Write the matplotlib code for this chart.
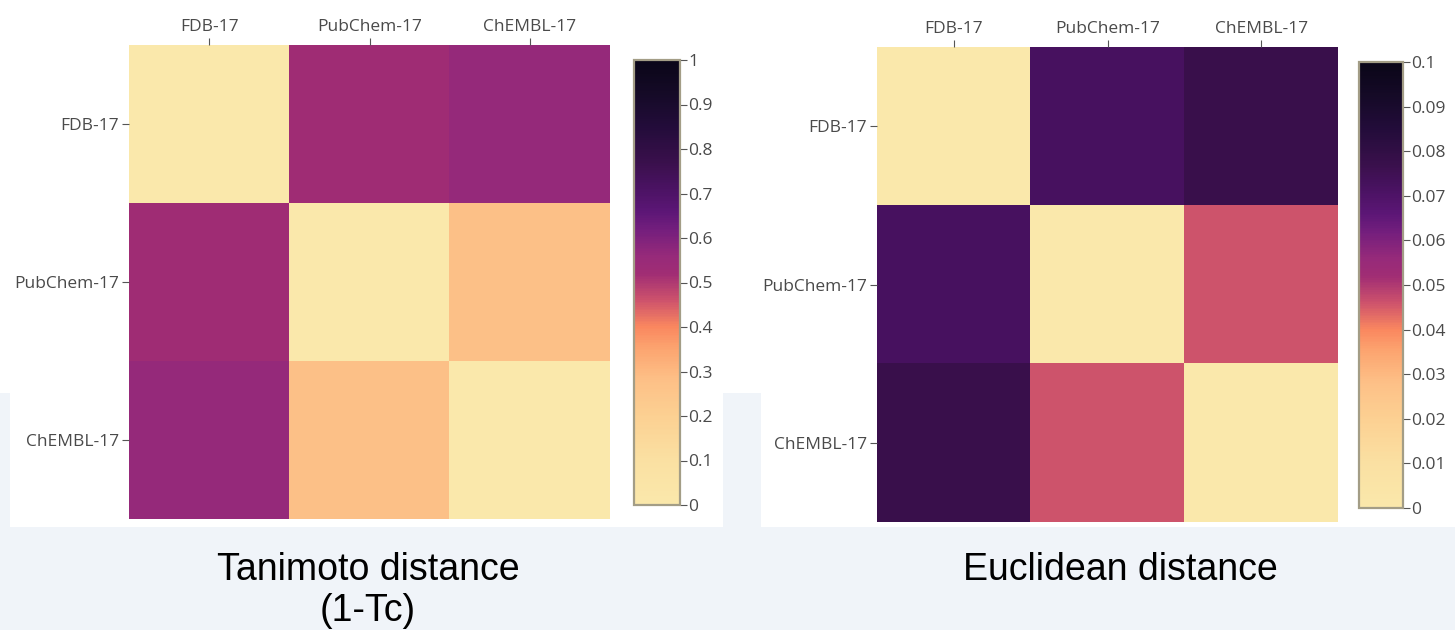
import matplotlib
matplotlib.use("Agg")
import matplotlib.pyplot as plt
import numpy as np
from matplotlib.colors import LinearSegmentedColormap
from matplotlib.patches import Rectangle

labels = ["FDB-17", "PubChem-17", "ChEMBL-17"]
tanimoto = [[0.0, 0.52, 0.56],
            [0.52, 0.0, 0.28],
            [0.56, 0.28, 0.0]]
euclidean = [[0.0, 0.072, 0.077],
             [0.072, 0.0, 0.046],
             [0.077, 0.046, 0.0]]
tan_ticks = [0, 0.1, 0.2, 0.3, 0.4, 0.5, 0.6, 0.7, 0.8, 0.9, 1]
tan_ticklabels = ["0", "0.1", "0.2", "0.3", "0.4", "0.5", "0.6", "0.7", "0.8", "0.9", "1"]
euc_ticks = [0, 0.01, 0.02, 0.03, 0.04, 0.05, 0.06, 0.07, 0.08, 0.09, 0.1]
euc_ticklabels = ["0", "0.01", "0.02", "0.03", "0.04", "0.05", "0.06", "0.07", "0.08", "0.09", "0.1"]

stops = [(0.00, (250, 232, 171)), (0.10, (250, 224, 162)), (0.20, (252, 208, 146)),
         (0.28, (253, 192, 135)), (0.35, (252, 165, 112)), (0.40, (250, 135, 95)),
         (0.46, (205, 82, 108)), (0.52, (160, 45, 116)), (0.56, (150, 42, 122)),
         (0.62, (115, 30, 125)), (0.66, (92, 22, 118)), (0.72, (72, 18, 96)),
         (0.77, (58, 16, 76)), (0.85, (35, 12, 58)), (0.92, (22, 10, 40)),
         (1.00, (10, 6, 24))]
cmap = LinearSegmentedColormap.from_list(
    "m", [(p, tuple(c / 255 for c in rgb)) for p, rgb in stops])

W, H = 1455, 630
fig = plt.figure(figsize=(W / 100, H / 100), dpi=100)
bg = "#f0f4f9"
fig.patch.set_facecolor(bg)


def px(x0, y0, x1, y1):
    return [x0 / W, 1 - y1 / H, (x1 - x0) / W, (y1 - y0) / H]


# white panels
for (x0, y0, x1, y1) in [(0, 0, W, 393), (10, 393, 723, 527), (761, 393, W, 527)]:
    fig.patches.append(Rectangle((x0 / W, 1 - y1 / H), (x1 - x0) / W, (y1 - y0) / H,
                                 transform=fig.transFigure, facecolor="white",
                                 edgecolor="none", zorder=-5))

tick_color = "#4a4a4a"
lab_font = "Open Sans"
lab_size = 12.5


def heat(rect, cbrect, data, vmax, ticks, ticklabels):
    ax = fig.add_axes(px(*rect))
    im = ax.imshow(np.array(data), cmap=cmap, vmin=0, vmax=vmax, aspect="auto",
                   interpolation="nearest")
    ax.xaxis.tick_top()
    ax.set_xticks(range(len(labels)))
    ax.set_xticklabels(labels)
    ax.set_yticks(range(len(labels)))
    ax.set_yticklabels(labels)
    ax.tick_params(length=5, width=0.8, color="#555555", labelcolor=tick_color,
                   labelsize=lab_size, pad=2)
    for t in ax.get_xticklabels() + ax.get_yticklabels():
        t.set_fontfamily(lab_font)
    for s in ax.spines.values():
        s.set_visible(False)
    cax = fig.add_axes(px(*cbrect))
    cb = fig.colorbar(im, cax=cax)
    cb.set_ticks(ticks)
    cb.set_ticklabels(ticklabels)
    cb.outline.set_edgecolor("#a39d86")
    cb.outline.set_linewidth(1.6)
    cax.tick_params(length=5, width=0.8, color="#555555", labelcolor=tick_color,
                    labelsize=lab_size, pad=1)
    for t in cax.get_yticklabels():
        t.set_fontfamily(lab_font)
    return ax


heat((129, 45, 610, 519), (634, 60, 680, 505), tanimoto, 1.0, tan_ticks, tan_ticklabels)
heat((877, 47, 1338, 522), (1359, 62, 1403, 508), euclidean, 0.1, euc_ticks, euc_ticklabels)

fig.text(368 / W, 1 - 570 / H, "Tanimoto distance", ha="center", va="center",
         fontsize=27, family="Liberation Sans", color="black")
fig.text(368 / W, 1 - 611 / H, "(1-Tc)", ha="center", va="center",
         fontsize=27, family="Liberation Sans", color="black")
fig.text(1120 / W, 1 - 570 / H, "Euclidean distance", ha="center", va="center",
         fontsize=27, family="Liberation Sans", color="black")

fig.savefig("out.png", dpi=100, facecolor=fig.get_facecolor())
